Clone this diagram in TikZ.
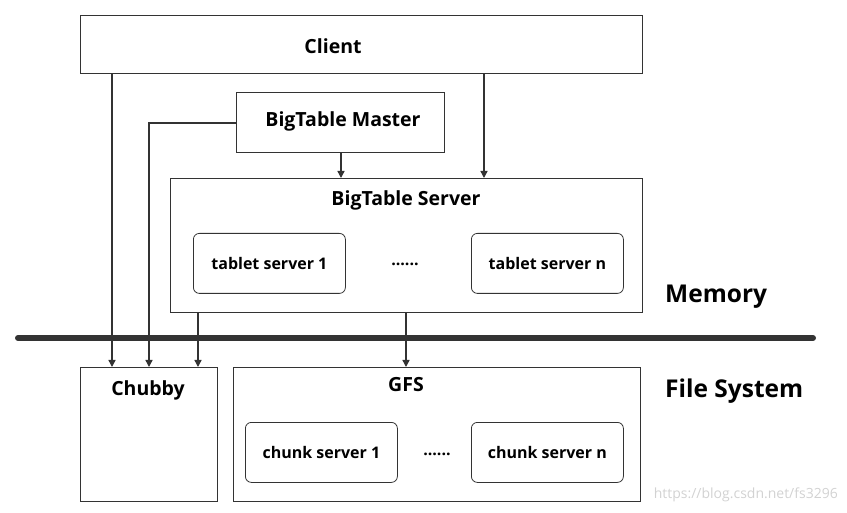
\documentclass[tikz,border=0pt]{standalone}
\usepackage{fontspec}
\setmainfont{Open Sans}
\usepackage{tikz}
\usetikzlibrary{arrows.meta}
\definecolor{inkgray}{HTML}{333333}

\begin{document}
\begin{tikzpicture}[
        x=1pt,
        y=-1pt,
        flowarrow/.style={-{Triangle[length=7pt,width=7pt]}, draw=inkgray, line width=1.4pt},
        sysbox/.style={draw=inkgray, line width=0.9pt, anchor=north west, inner sep=0pt},
        subbox/.style={draw=inkgray, line width=0.8pt, rounded corners=6pt, anchor=north west, inner sep=0pt,
          minimum width=152pt, minimum height=60pt, font=\fontsize{16}{18}\selectfont\bfseries},
        title/.style={font=\fontsize{19.5}{22}\selectfont\bfseries, inner sep=0pt},
        layerlabel/.style={font=\fontsize{24.5}{28}\selectfont\bfseries, anchor=west, inner sep=0pt},
        dots/.style={font=\fontsize{16}{18}\selectfont\bfseries, inner sep=0pt},
        bus/.style={draw=inkgray, line width=6pt, line cap=round}
      ]
        \useasboundingbox (0,0) rectangle (847,513);

        % memory layer
        \node[sysbox, minimum width=562pt, minimum height=58pt] (client) at (80,15) {};
        \node[title] (clienttext) at (333,46) {Client};

        \node[sysbox, minimum width=208pt, minimum height=60pt] (master) at (236,92) {};
        \node[title] (mastertext) at (343,121.5) {BigTable Master};

        \node[sysbox, minimum width=472pt, minimum height=134pt] (server) at (170,178) {};
        \node[title] (servertext) at (406,200.5) {BigTable Server};
        \node[subbox] (tablet1) at (193,233) {tablet server 1};
        \node[dots] (tabletdots) at (405,264) {......};
        \node[subbox] (tabletn) at (471,233) {tablet server n};

        \node[layerlabel] (memory) at (665,297) {Memory};

        % bus
        \coordinate (busleft) at (18,338);
        \coordinate (busright) at (813,338);
        \draw[bus] (busleft) -- (busright);

        % file system layer
        \node[sysbox, minimum width=137pt, minimum height=134pt] (chubby) at (80,367) {};
        \node[title] (chubbytext) at (148,390.5) {Chubby};

        \node[sysbox, minimum width=407pt, minimum height=134pt] (gfs) at (233,367) {};
        \node[title] (gfstext) at (406,385) {GFS};
        \node[subbox] (chunk1) at (245,422) {chunk server 1};
        \node[dots] (chunkdots) at (437,454) {......};
        \node[subbox] (chunkn) at (471,422) {chunk server n};

        \node[layerlabel] (filesystem) at (665,391) {File System};

        \node[font=\fontsize{14}{16}\selectfont, text=gray!35, anchor=east, inner sep=0pt] (mark) at (838,495) {https://blog.csdn.net/fs3296};

        % connectors
        \draw[flowarrow] ([xshift=32pt]chubby.north west |- client.south) -- ([xshift=32pt]chubby.north west);
        \draw[flowarrow] ([xshift=314pt]server.north west |- client.south) -- ([xshift=314pt]server.north west);
        \draw[flowarrow] ([xshift=171pt]server.north west |- master.south) -- ([xshift=171pt]server.north west);
        \draw[flowarrow] ([yshift=-31pt]master.north west) -| ([xshift=69pt]chubby.north west);
        \draw[flowarrow] ([xshift=28pt]server.south west) -- ([xshift=118pt]chubby.north west);
        \draw[flowarrow] ([xshift=236pt]server.south west) -- ([xshift=173pt]gfs.north west);
      \end{tikzpicture}
\end{document}
